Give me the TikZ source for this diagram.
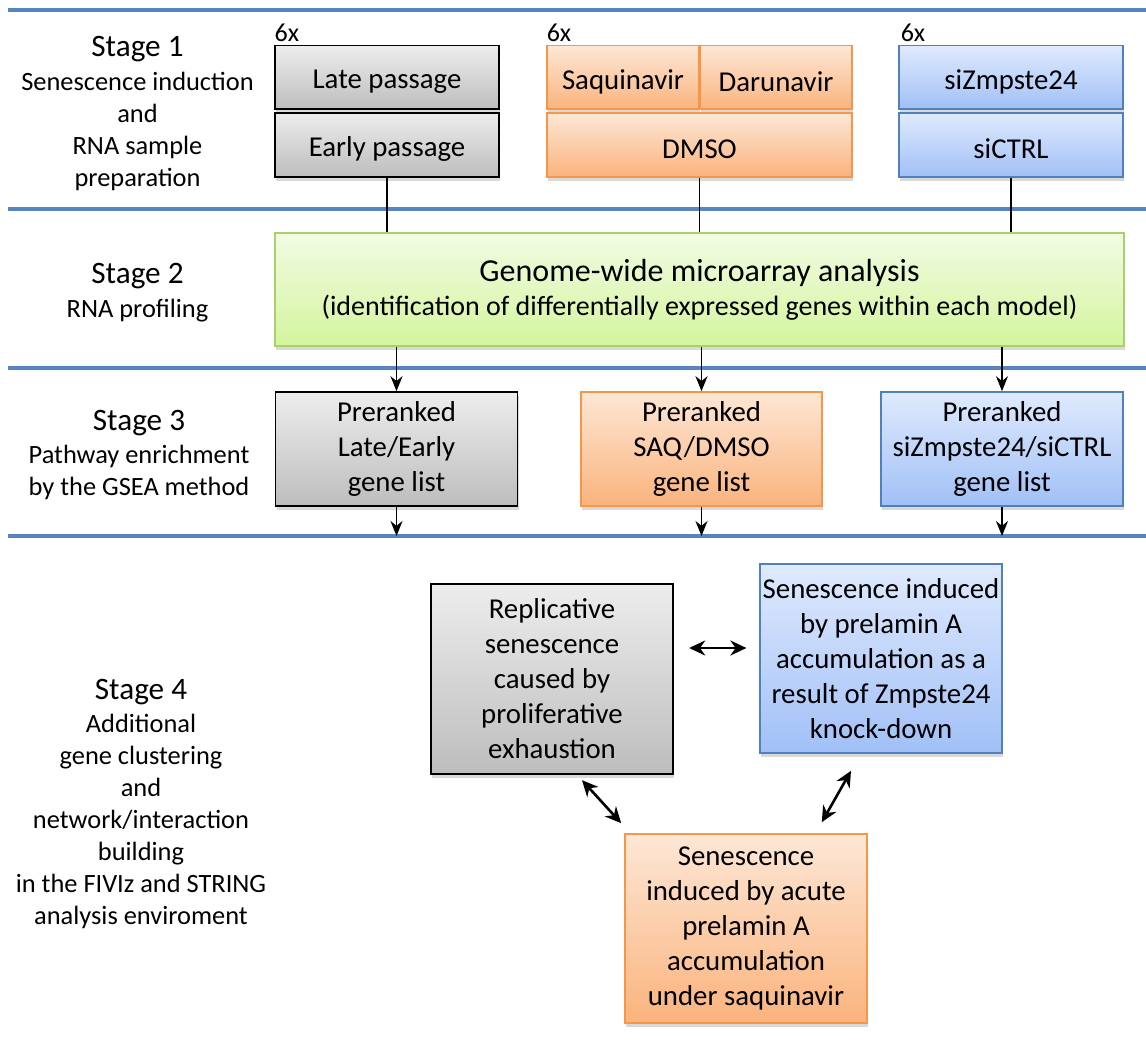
\documentclass[tikz,border=0pt]{standalone}
\usepackage{fontspec}
\setmainfont{Carlito}
\usetikzlibrary{positioning,calc,shadows,arrows.meta}

\definecolor{sepblue}{HTML}{5685C2}
\definecolor{graytop}{HTML}{EDEDED}
\definecolor{graybot}{HTML}{BDBDBD}
\definecolor{orangeline}{HTML}{F79646}
\definecolor{orangetop}{HTML}{FDE7D6}
\definecolor{orangebot}{HTML}{FAB37D}
\definecolor{blueline}{HTML}{4F81BD}
\definecolor{bluetop}{HTML}{DFEAFD}
\definecolor{bluebot}{HTML}{A1C0F7}
\definecolor{greenline}{HTML}{A9D06A}
\definecolor{greentop}{HTML}{F2FBE3}
\definecolor{greenbot}{HTML}{D4F59E}

\newcommand{\lowtext}[1]{\raisebox{-2pt}[\height][\depth]{#1}}

\begin{document}
\begin{tikzpicture}[x=0.5pt,y=-0.5pt,
>={Stealth[length=7.5pt,width=6pt]},
box/.style={rectangle,align=center,inner sep=0pt,line width=0.8pt,
  font=\fontsize{14.4}{17.5}\selectfont,
  drop shadow={opacity=0.3,shadow xshift=0.6pt,shadow yshift=-1.8pt}},
graybox/.style={box,draw=black,top color=graytop,bottom color=graybot},
orangebox/.style={box,draw=orangeline,top color=orangetop,bottom color=orangebot},
bluebox/.style={box,draw=blueline,top color=bluetop,bottom color=bluebot},
greenbox/.style={box,draw=greenline,top color=greentop,bottom color=greenbot,
  font=\fontsize{16}{16}\selectfont},
stage/.style={anchor=base,inner sep=0pt,font=\fontsize{15.6}{18}\selectfont},
desc/.style={align=center,inner sep=0pt,font=\fontsize{13.2}{16}\selectfont},
six/.style={anchor=base west,inner sep=0pt,font=\fontsize{13}{15}\selectfont},
sep/.style={sepblue,line width=1.8pt},
link/.style={line width=0.8pt},
dbl/.style={{Stealth[length=8pt,width=7.5pt]}-{Stealth[length=8pt,width=7.5pt]},line width=1.3pt}]
\useasboundingbox (0,0) rectangle (1146,1048);

% separators between the stages
\coordinate (l1) at (8,10);
\coordinate (l2) at (8,209);
\coordinate (l3) at (8,368);
\coordinate (l4) at (8,536);
\coordinate (r) at (1146,0);
\draw[sep] (l1) -- (l1 -| r);
\draw[sep] (l2) -- (l2 -| r);
\draw[sep] (l3) -- (l3 -| r);
\draw[sep] (l4) -- (l4 -| r);

% stage labels
\node[stage] (st1) at (137.5,57) {Stage 1};
\node[desc] (d1) [below=4.3pt of st1] {Senescence induction\\and\\RNA sample\\preparation};
\node[stage] (st2) at (137.5,284) {Stage 2};
\node[desc] (d2) [below=4.3pt of st2] {RNA profiling};
\node[stage] (st3) at (139,430) {Stage 3};
\node[desc] (d3) [below=4.3pt of st3] {Pathway enrichment\\by the GSEA method};
\node[stage] (st4) at (141,699) {Stage 4};
\node[desc] (d4) [below=4.3pt of st4] {Additional\\gene clustering\\and\\network/interaction\\building\\in the FIVIz and STRING\\analysis enviroment};

% stage 1
\node[graybox,minimum width=112pt,minimum height=31.8pt] (late) at (387,77.5) {\lowtext{Late passage}};
\node[graybox,minimum width=112pt,minimum height=32pt] (early) at (387,145) {\lowtext{Early passage}};
\node[orangebox,minimum width=75.8pt,minimum height=31.8pt] (saq) at (623,77.5) {\lowtext{Saquinavir}};
\node[orangebox,minimum width=76pt,minimum height=31.8pt] (dar) at (776,77.5) {\lowtext{Darunavir}};
\node[orangebox,minimum width=152.5pt,minimum height=32pt] (dmso) at (699.5,145) {\lowtext{DMSO}};
\node[bluebox,minimum width=111.8pt,minimum height=31.8pt] (sizmp) at (1011,77.5) {\lowtext{siZmpste24}};
\node[bluebox,minimum width=111.8pt,minimum height=32pt] (sictrl) at (1011,145) {\lowtext{siCTRL}};
\node[six] (six1) at ($(late.north west)+(0,-3)$) {6x};
\node[six] (six2) at ($(saq.north west)+(0,-3)$) {6x};
\node[six] (six3) at ($(sizmp.north west)+(2,-3)$) {6x};

% stage 2
\node[greenbox,minimum width=424.5pt,minimum height=56.5pt] (array) at (699.5,289.5)
  {Genome-wide microarray analysis\\[1pt]
   {\fontsize{14}{16}\selectfont (identification of differentially expressed genes within each model)}};
\draw[link] (early.south) -- (early.south |- array.north);
\draw[link] (dmso.south) -- (dmso.south |- array.north);
\draw[link] (sictrl.south) -- (sictrl.south |- array.north);

% stage 3
\node[graybox,minimum width=121pt,minimum height=57pt] (pre1) at (396.5,449) {Preranked\\Late/Early\\gene list};
\node[orangebox,minimum width=120.5pt,minimum height=57pt] (pre2) at (701.5,449) {Preranked\\SAQ/DMSO\\gene list};
\node[bluebox,minimum width=120.8pt,minimum height=57pt] (pre3) at (1002,449) {Preranked\\siZmpste24/siCTRL\\gene list};
\draw[link,->] (array.south -| pre1) -- (pre1.north);
\draw[link,->] (array.south -| pre2) -- (pre2.north);
\draw[link,->] (array.south -| pre3) -- (pre3.north);
\draw[link,->] (pre1.south) -- (pre1 |- l4);
\draw[link,->] (pre2.south) -- (pre2 |- l4);
\draw[link,->] (pre3.south) -- (pre3 |- l4);

% stage 4
\node[graybox,line width=1.2pt,minimum width=121pt,minimum height=95pt] (repl) at (552,679)
  {Replicative\\senescence\\caused by\\proliferative\\exhaustion};
\node[bluebox,minimum width=120.8pt,minimum height=94.5pt] (zmp) at (881,658.5)
  {Senescence induced\\by prelamin A\\accumulation as a\\result of Zmpste24\\knock-down};
\node[orangebox,minimum width=121pt,minimum height=94.5pt] (acute) at (746,928.5)
  {Senescence\\induced by acute\\prelamin A\\accumulation\\under saquinavir};
\draw[dbl] ($(repl.east)+(15,-31)$) -- ($(zmp.west)+(-13,-10.5)$);
\draw[dbl] ($(repl.south)+(30,5)$) -- ($(acute.north west)+(-3,-10)$);
\draw[dbl] ($(zmp.south)+(-30,17)$) -- ($(acute.north east)+(-46,-11)$);
\end{tikzpicture}
\end{document}
